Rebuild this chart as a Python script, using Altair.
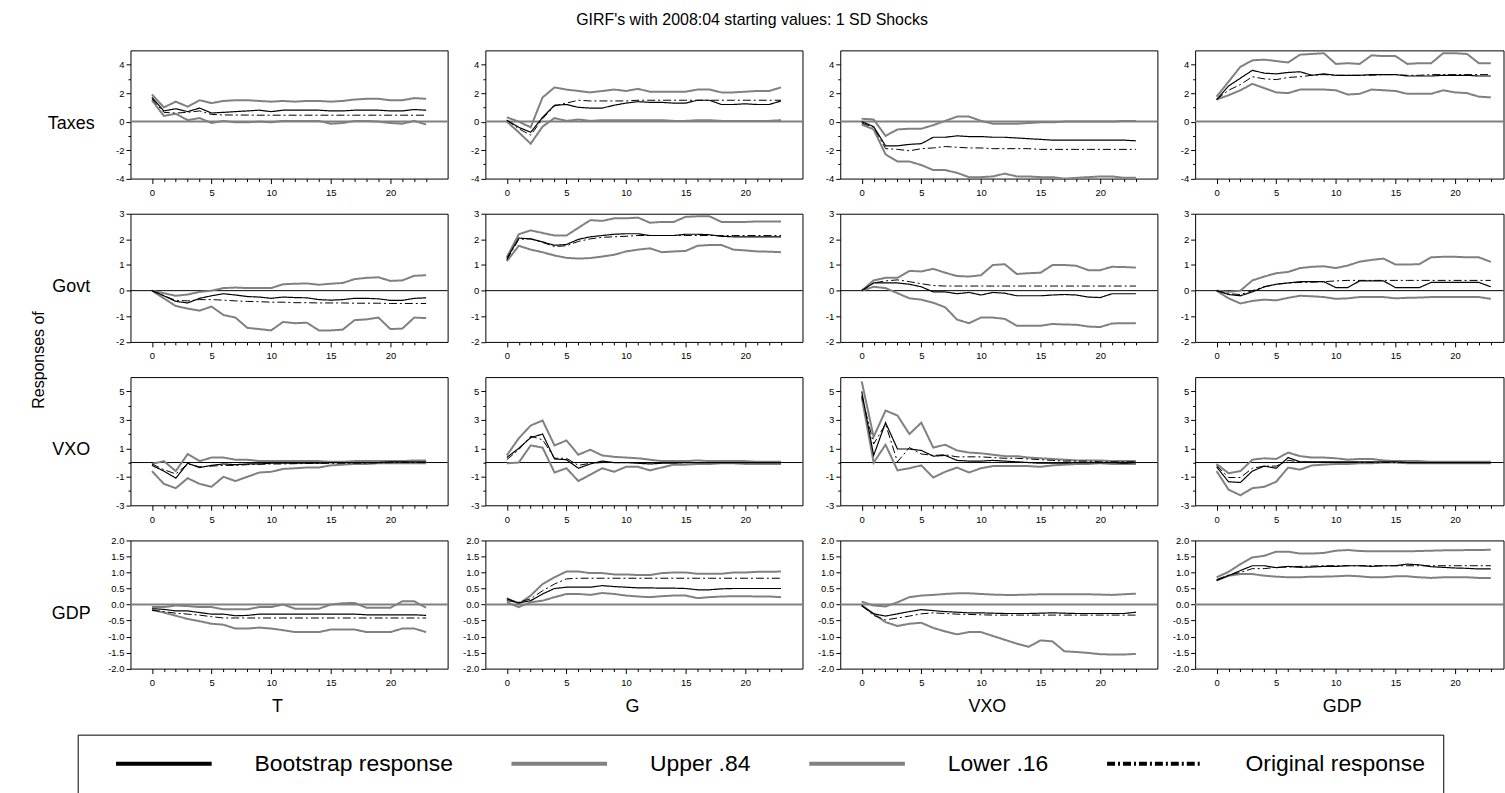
import altair as alt
import pandas as pd

FONT = "Liberation Sans"

SERIES = ["Bootstrap response", "Upper .84", "Lower .16", "Original response"]
SERIES_COLORS = ["#000000", "#808080", "#808080", "#000000"]
SERIES_DASH = [[1, 0], [1, 0], [1, 0], [8, 3, 2, 3]]

RESPONSES = ["Taxes", "Govt", "VXO", "GDP"]
SHOCKS = ["T", "G", "VXO", "GDP"]
HORIZON = list(range(24))

# ---- responses of Taxes ----
TAXES_T = {
    "boot": [1.7, 0.75, 0.9, 0.7, 0.95, 0.6, 0.65, 0.7, 0.75, 0.8, 0.7, 0.8, 0.8, 0.8, 0.8, 0.75, 0.75, 0.8, 0.8, 0.8, 0.75, 0.75, 0.85, 0.8],
    "upper": [1.9, 1.0, 1.4, 1.05, 1.5, 1.3, 1.45, 1.5, 1.5, 1.45, 1.4, 1.45, 1.4, 1.45, 1.45, 1.4, 1.45, 1.55, 1.6, 1.6, 1.5, 1.5, 1.65, 1.6],
    "lower": [1.5, 0.4, 0.55, 0.1, 0.25, -0.1, 0.05, -0.05, -0.05, 0.0, -0.05, 0.05, 0.05, 0.05, 0.05, -0.15, -0.1, 0.05, 0.05, 0.0, -0.1, -0.15, 0.05, -0.2],
    "orig": [1.6, 0.65, 0.6, 0.65, 0.75, 0.5, 0.47, 0.46, 0.46, 0.45, 0.45, 0.45, 0.45, 0.45, 0.45, 0.45, 0.45, 0.45, 0.45, 0.45, 0.45, 0.45, 0.45, 0.45],
}
TAXES_G = {
    "boot": [0.1, -0.4, -0.75, 0.3, 1.15, 1.2, 1.0, 0.95, 0.95, 1.15, 1.3, 1.4, 1.35, 1.35, 1.3, 1.3, 1.5, 1.5, 1.2, 1.2, 1.25, 1.2, 1.2, 1.45],
    "upper": [0.3, 0.0, -0.4, 1.7, 2.4, 2.25, 2.15, 2.05, 2.15, 2.25, 2.15, 2.3, 2.1, 2.1, 2.1, 2.1, 2.25, 2.25, 2.05, 2.05, 2.1, 2.15, 2.15, 2.4],
    "lower": [0.0, -0.75, -1.55, -0.35, 0.25, 0.05, 0.15, 0.05, 0.1, 0.1, 0.1, 0.1, 0.1, 0.1, 0.05, 0.05, 0.1, 0.1, 0.05, 0.05, 0.05, 0.05, 0.05, 0.1],
    "orig": [0.1, -0.5, -0.95, 0.2, 1.1, 1.3, 1.5, 1.45, 1.45, 1.45, 1.45, 1.5, 1.5, 1.5, 1.5, 1.5, 1.5, 1.5, 1.5, 1.5, 1.5, 1.5, 1.5, 1.5],
}
TAXES_VXO = {
    "boot": [0.0, -0.35, -1.7, -1.7, -1.6, -1.55, -1.1, -1.1, -1.0, -1.05, -1.05, -1.1, -1.1, -1.15, -1.2, -1.25, -1.3, -1.3, -1.3, -1.3, -1.3, -1.3, -1.3, -1.35],
    "upper": [0.2, 0.15, -1.0, -0.55, -0.5, -0.5, -0.25, 0.05, 0.35, 0.35, 0.05, -0.15, -0.15, -0.15, -0.1, -0.05, -0.05, 0.0, 0.0, 0.0, 0.0, 0.0, 0.05, 0.05],
    "lower": [-0.2, -0.55, -2.3, -2.8, -2.8, -3.05, -3.4, -3.4, -3.6, -3.9, -3.9, -3.85, -3.65, -3.85, -3.85, -3.9, -3.9, -4.0, -3.95, -3.9, -3.85, -3.85, -3.95, -3.95],
    "orig": [-0.1, -0.4, -1.9, -1.95, -2.05, -1.9, -1.85, -1.75, -1.8, -1.85, -1.85, -1.9, -1.9, -1.9, -1.9, -1.95, -1.95, -1.95, -1.95, -1.95, -1.95, -1.95, -1.95, -1.95],
}
TAXES_GDP = {
    "boot": [1.55, 2.5, 3.05, 3.6, 3.4, 3.35, 3.45, 3.5, 3.25, 3.35, 3.25, 3.25, 3.25, 3.3, 3.3, 3.3, 3.2, 3.2, 3.2, 3.25, 3.25, 3.25, 3.2, 3.2],
    "upper": [1.75, 2.8, 3.85, 4.3, 4.35, 4.25, 4.15, 4.7, 4.75, 4.8, 4.05, 4.1, 4.05, 4.65, 4.6, 4.6, 4.05, 4.1, 4.1, 4.8, 4.8, 4.75, 4.1, 4.1],
    "lower": [1.55, 1.85, 2.2, 2.65, 2.35, 2.05, 2.0, 2.25, 2.25, 2.25, 2.2, 1.9, 1.95, 2.25, 2.2, 2.15, 1.95, 1.95, 1.95, 2.2, 2.05, 2.0, 1.75, 1.7],
    "orig": [1.55, 2.2, 2.6, 3.15, 3.0, 2.95, 3.1, 3.15, 3.25, 3.3, 3.25, 3.25, 3.25, 3.25, 3.3, 3.3, 3.25, 3.25, 3.3, 3.3, 3.3, 3.3, 3.3, 3.3],
}

# ---- responses of Govt ----
GOVT_T = {
    "boot": [0.0, -0.2, -0.42, -0.48, -0.3, -0.2, -0.12, -0.17, -0.23, -0.25, -0.3, -0.25, -0.27, -0.28, -0.35, -0.37, -0.35, -0.3, -0.3, -0.32, -0.38, -0.38, -0.3, -0.28],
    "upper": [0.0, -0.1, -0.2, -0.15, -0.05, 0.0, 0.1, 0.12, 0.1, 0.1, 0.1, 0.25, 0.27, 0.28, 0.23, 0.27, 0.3, 0.45, 0.5, 0.52, 0.38, 0.4, 0.58, 0.6],
    "lower": [0.0, -0.3, -0.6, -0.7, -0.78, -0.62, -0.95, -1.05, -1.45, -1.5, -1.55, -1.22, -1.27, -1.25, -1.55, -1.55, -1.52, -1.15, -1.12, -1.05, -1.5, -1.48, -1.05, -1.07],
    "orig": [0.0, -0.2, -0.38, -0.4, -0.35, -0.35, -0.37, -0.4, -0.42, -0.43, -0.45, -0.45, -0.47, -0.47, -0.48, -0.48, -0.48, -0.49, -0.49, -0.49, -0.5, -0.5, -0.5, -0.5],
}
GOVT_G = {
    "boot": [1.25, 2.05, 2.02, 1.9, 1.77, 1.8, 2.0, 2.1, 2.15, 2.2, 2.22, 2.22, 2.15, 2.15, 2.15, 2.2, 2.2, 2.18, 2.12, 2.1, 2.1, 2.1, 2.1, 2.1],
    "upper": [1.3, 2.2, 2.35, 2.25, 2.15, 2.15, 2.45, 2.75, 2.72, 2.82, 2.82, 2.85, 2.65, 2.68, 2.68, 2.88, 2.9, 2.9, 2.68, 2.68, 2.68, 2.7, 2.7, 2.7],
    "lower": [1.15, 1.75, 1.6, 1.5, 1.37, 1.28, 1.25, 1.27, 1.33, 1.4, 1.53, 1.6, 1.65, 1.5, 1.53, 1.55, 1.75, 1.78, 1.78, 1.6, 1.57, 1.53, 1.52, 1.5],
    "orig": [1.2, 2.0, 2.02, 1.88, 1.72, 1.75, 1.92, 2.02, 2.08, 2.1, 2.12, 2.15, 2.15, 2.15, 2.15, 2.15, 2.15, 2.15, 2.15, 2.15, 2.15, 2.15, 2.15, 2.15],
}
GOVT_VXO = {
    "boot": [0.0, 0.3, 0.3, 0.3, 0.25, 0.15, -0.05, -0.05, -0.12, -0.07, -0.17, -0.07, -0.1, -0.2, -0.2, -0.2, -0.17, -0.15, -0.17, -0.25, -0.27, -0.12, -0.12, -0.12],
    "upper": [0.0, 0.4, 0.5, 0.5, 0.77, 0.75, 0.85, 0.7, 0.57, 0.55, 0.6, 1.0, 1.03, 0.65, 0.68, 0.7, 1.0, 1.0, 0.97, 0.8, 0.8, 0.93, 0.92, 0.9],
    "lower": [0.0, 0.15, 0.1, -0.1, -0.3, -0.35, -0.47, -0.65, -1.13, -1.27, -1.05, -1.05, -1.1, -1.37, -1.37, -1.37, -1.3, -1.32, -1.33, -1.4, -1.42, -1.28, -1.27, -1.27],
    "orig": [0.0, 0.3, 0.38, 0.42, 0.35, 0.27, 0.2, 0.18, 0.18, 0.18, 0.18, 0.18, 0.18, 0.18, 0.18, 0.18, 0.18, 0.18, 0.18, 0.18, 0.18, 0.18, 0.18, 0.18],
}
GOVT_GDP = {
    "boot": [0.0, -0.15, -0.2, -0.05, 0.15, 0.25, 0.3, 0.35, 0.35, 0.35, 0.12, 0.12, 0.38, 0.38, 0.38, 0.12, 0.12, 0.12, 0.32, 0.32, 0.32, 0.32, 0.32, 0.15],
    "upper": [0.0, -0.05, 0.0, 0.4, 0.55, 0.68, 0.73, 0.88, 0.93, 0.95, 0.88, 0.98, 1.13, 1.2, 1.25, 1.02, 1.02, 1.03, 1.3, 1.32, 1.32, 1.3, 1.3, 1.12],
    "lower": [0.0, -0.3, -0.5, -0.4, -0.35, -0.38, -0.28, -0.2, -0.22, -0.25, -0.32, -0.3, -0.25, -0.25, -0.25, -0.3, -0.28, -0.27, -0.25, -0.25, -0.25, -0.25, -0.25, -0.32],
    "orig": [0.0, -0.12, -0.15, 0.0, 0.15, 0.25, 0.3, 0.32, 0.33, 0.35, 0.38, 0.4, 0.4, 0.4, 0.4, 0.4, 0.4, 0.4, 0.4, 0.4, 0.4, 0.4, 0.4, 0.4],
}

# ---- responses of VXO ----
VXO_T = {
    "boot": [-0.2, -0.6, -1.1, -0.05, -0.35, -0.2, -0.1, -0.15, -0.1, -0.1, -0.05, -0.05, -0.05, -0.05, -0.05, 0.0, 0.0, 0.0, 0.0, 0.0, 0.05, 0.05, 0.05, 0.05],
    "upper": [-0.1, 0.1, -0.6, 0.6, 0.1, 0.35, 0.35, 0.2, 0.2, 0.1, 0.1, 0.1, 0.1, 0.1, 0.1, 0.05, 0.05, 0.1, 0.1, 0.1, 0.1, 0.1, 0.15, 0.15],
    "lower": [-0.6, -1.5, -1.8, -1.1, -1.5, -1.7, -1.0, -1.3, -1.0, -0.7, -0.65, -0.45, -0.4, -0.35, -0.35, -0.2, -0.15, -0.1, -0.1, -0.05, -0.05, -0.05, -0.05, -0.05],
    "orig": [-0.1, -0.5, -0.8, -0.1, -0.3, -0.25, -0.2, -0.2, -0.15, -0.12, -0.1, -0.1, -0.08, -0.07, -0.06, -0.05, -0.05, -0.04, -0.03, -0.02, -0.01, 0.0, 0.0, 0.0],
}
VXO_G = {
    "boot": [0.35, 1.0, 1.75, 2.0, 0.25, 0.2, -0.4, -0.1, 0.1, 0.0, 0.0, -0.05, -0.1, -0.05, -0.05, 0.0, 0.0, 0.0, 0.0, 0.0, 0.0, 0.0, 0.0, 0.0],
    "upper": [0.5, 1.7, 2.6, 2.95, 1.2, 1.55, 0.55, 0.9, 0.5, 0.4, 0.35, 0.3, 0.2, 0.1, 0.1, 0.1, 0.15, 0.1, 0.1, 0.1, 0.1, 0.05, 0.05, 0.05],
    "lower": [-0.05, 0.0, 1.2, 1.05, -0.7, -0.4, -1.3, -0.85, -0.4, -0.65, -0.3, -0.3, -0.55, -0.35, -0.15, -0.15, -0.1, -0.1, -0.05, -0.05, -0.1, -0.1, -0.1, -0.1],
    "orig": [0.2, 0.9, 1.85, 1.6, 0.3, 0.3, -0.2, -0.05, 0.0, 0.0, 0.0, 0.0, 0.0, 0.0, 0.0, 0.0, 0.0, 0.0, 0.0, 0.0, 0.0, 0.0, 0.0, 0.0],
}
VXO_VXO = {
    "boot": [5.0, 0.5, 2.8, 0.95, 0.95, 0.85, 0.45, 0.5, 0.15, 0.1, 0.1, 0.15, 0.1, 0.05, 0.0, -0.05, -0.05, -0.05, 0.0, 0.0, 0.0, 0.0, -0.05, 0.0],
    "upper": [5.7, 1.8, 3.65, 3.3, 2.0, 2.8, 1.05, 1.25, 0.85, 0.7, 0.65, 0.55, 0.45, 0.45, 0.35, 0.3, 0.25, 0.2, 0.15, 0.15, 0.15, 0.1, 0.1, 0.1],
    "lower": [4.6, 0.0, 1.25, -0.55, -0.4, -0.2, -1.05, -0.65, -0.35, -0.7, -0.4, -0.25, -0.25, -0.25, -0.25, -0.3, -0.2, -0.15, -0.1, -0.1, -0.05, -0.1, -0.1, -0.1],
    "orig": [4.7, 1.3, 2.7, 0.05, 1.05, 0.6, 0.5, 0.55, 0.4, 0.4, 0.4, 0.35, 0.3, 0.3, 0.25, 0.2, 0.15, 0.1, 0.1, 0.1, 0.05, 0.05, 0.05, 0.05],
}
VXO_GDP = {
    "boot": [-0.3, -1.35, -1.4, -0.6, -0.25, -0.4, 0.35, 0.05, 0.05, 0.05, 0.05, 0.05, 0.05, 0.05, 0.05, 0.05, 0.0, 0.0, 0.0, 0.0, 0.0, 0.0, 0.0, 0.0],
    "upper": [-0.1, -0.75, -0.6, 0.2, 0.3, 0.25, 0.7, 0.45, 0.35, 0.35, 0.3, 0.2, 0.25, 0.25, 0.15, 0.1, 0.1, 0.1, 0.05, 0.05, 0.05, 0.05, 0.05, 0.05],
    "lower": [-0.6, -1.9, -2.3, -1.8, -1.7, -1.35, -0.35, -0.5, -0.2, -0.15, -0.1, -0.1, -0.05, -0.05, 0.0, 0.0, -0.05, -0.05, -0.05, -0.05, -0.05, -0.05, -0.05, -0.05],
    "orig": [-0.2, -1.05, -1.05, -0.4, -0.25, -0.25, 0.15, 0.05, 0.0, 0.0, 0.0, 0.0, 0.0, 0.0, 0.0, 0.0, 0.0, 0.0, 0.0, 0.0, 0.0, 0.0, 0.0, 0.0],
}

# ---- responses of GDP ----
GDP_T = {
    "boot": [-0.13, -0.15, -0.2, -0.2, -0.25, -0.3, -0.3, -0.35, -0.34, -0.3, -0.3, -0.3, -0.3, -0.3, -0.3, -0.3, -0.3, -0.3, -0.32, -0.32, -0.32, -0.32, -0.32, -0.34],
    "upper": [-0.08, -0.08, -0.03, -0.05, -0.08, -0.08, -0.15, -0.15, -0.15, -0.08, -0.08, 0.0, -0.13, -0.13, -0.13, 0.0, 0.04, 0.05, -0.1, -0.1, -0.1, 0.1, 0.1, -0.1],
    "lower": [-0.17, -0.25, -0.35, -0.45, -0.52, -0.6, -0.63, -0.75, -0.75, -0.72, -0.75, -0.8, -0.86, -0.86, -0.86, -0.78, -0.78, -0.78, -0.86, -0.86, -0.86, -0.75, -0.75, -0.86],
    "orig": [-0.18, -0.22, -0.27, -0.3, -0.33, -0.38, -0.42, -0.42, -0.42, -0.42, -0.42, -0.42, -0.42, -0.42, -0.42, -0.42, -0.42, -0.42, -0.42, -0.42, -0.42, -0.42, -0.42, -0.42],
}
GDP_G = {
    "boot": [0.18, 0.05, 0.12, 0.33, 0.5, 0.54, 0.54, 0.54, 0.59, 0.56, 0.54, 0.52, 0.52, 0.51, 0.51, 0.5, 0.46, 0.46, 0.49, 0.5, 0.5, 0.5, 0.5, 0.5],
    "upper": [0.2, 0.02, 0.28, 0.64, 0.85, 1.03, 1.03, 0.98, 0.98, 0.94, 0.94, 0.92, 0.92, 0.98, 1.0, 1.0, 0.96, 0.96, 0.96, 1.0, 1.0, 1.02, 1.02, 1.03],
    "lower": [0.07, -0.08, 0.07, 0.12, 0.23, 0.33, 0.33, 0.3, 0.36, 0.33, 0.28, 0.25, 0.23, 0.26, 0.28, 0.28, 0.2, 0.23, 0.25, 0.26, 0.26, 0.25, 0.25, 0.23],
    "orig": [0.12, 0.07, 0.18, 0.43, 0.64, 0.8, 0.82, 0.82, 0.82, 0.82, 0.82, 0.82, 0.82, 0.82, 0.82, 0.82, 0.82, 0.82, 0.82, 0.82, 0.82, 0.82, 0.82, 0.82],
}
GDP_VXO = {
    "boot": [-0.03, -0.29, -0.36, -0.29, -0.22, -0.16, -0.19, -0.22, -0.24, -0.26, -0.26, -0.27, -0.28, -0.28, -0.28, -0.27, -0.26, -0.27, -0.28, -0.28, -0.28, -0.28, -0.28, -0.24],
    "upper": [0.09, -0.03, -0.06, 0.07, 0.23, 0.28, 0.3, 0.33, 0.35, 0.35, 0.33, 0.31, 0.3, 0.3, 0.31, 0.32, 0.32, 0.32, 0.32, 0.32, 0.31, 0.3, 0.32, 0.34],
    "lower": [-0.03, -0.29, -0.55, -0.67, -0.6, -0.57, -0.73, -0.84, -0.93, -0.86, -0.86, -0.98, -1.1, -1.22, -1.32, -1.12, -1.15, -1.46, -1.48, -1.51, -1.55, -1.56, -1.56, -1.54],
    "orig": [-0.03, -0.34, -0.48, -0.42, -0.36, -0.29, -0.26, -0.28, -0.3, -0.31, -0.32, -0.33, -0.33, -0.33, -0.33, -0.33, -0.33, -0.33, -0.33, -0.33, -0.33, -0.33, -0.33, -0.33],
}
GDP_GDP = {
    "boot": [0.75, 0.9, 1.06, 1.21, 1.21, 1.15, 1.19, 1.16, 1.17, 1.19, 1.19, 1.21, 1.21, 1.19, 1.21, 1.21, 1.26, 1.24, 1.18, 1.16, 1.14, 1.13, 1.11, 1.11],
    "upper": [0.85, 1.02, 1.26, 1.47, 1.52, 1.65, 1.65, 1.59, 1.59, 1.61, 1.68, 1.7, 1.67, 1.66, 1.66, 1.66, 1.66, 1.67, 1.68, 1.69, 1.69, 1.7, 1.7, 1.71],
    "lower": [0.75, 0.9, 0.95, 0.95, 0.9, 0.87, 0.85, 0.85, 0.87, 0.87, 0.88, 0.9, 0.88, 0.85, 0.85, 0.88, 0.88, 0.85, 0.83, 0.85, 0.85, 0.85, 0.83, 0.83],
    "orig": [0.78, 0.92, 1.0, 1.12, 1.12, 1.16, 1.17, 1.19, 1.2, 1.21, 1.21, 1.21, 1.21, 1.21, 1.21, 1.21, 1.21, 1.21, 1.21, 1.21, 1.21, 1.21, 1.21, 1.21],
}

PANELS = [
    [TAXES_T, TAXES_G, TAXES_VXO, TAXES_GDP],
    [GOVT_T, GOVT_G, GOVT_VXO, GOVT_GDP],
    [VXO_T, VXO_G, VXO_VXO, VXO_GDP],
    [GDP_T, GDP_G, GDP_VXO, GDP_GDP],
]

# y-axis layout of each row: domain, tick positions, which ticks carry a label
ROW_Y = [
    dict(domain=[-4, 5], ticks=list(range(-4, 5)),
         major="datum.value % 2 == 0", fmt="toString(datum.value)",
         zero_color="#808080", zero_width=2),
    dict(domain=[-2, 3], ticks=list(range(-2, 4)),
         major="true", fmt="toString(datum.value)",
         zero_color="#000000", zero_width=1),
    dict(domain=[-3, 6], ticks=list(range(-3, 6)),
         major="abs(datum.value) % 2 == 1", fmt="toString(datum.value)",
         zero_color="#000000", zero_width=1),
    dict(domain=[-2, 2], ticks=[-2, -1.5, -1, -0.5, 0, 0.5, 1, 1.5, 2],
         major="true", fmt="(datum.value < 0 ? '-' : '') + format(abs(datum.value), '.1f')",
         zero_color="#808080", zero_width=2),
]

PANEL_W = 318.4
PANEL_H = 128.7
UNIT = PANEL_W / 26.6
X_DOMAIN = [-1.8, 24.8]
LAST_W = 309.6
X_DOMAIN_LAST = [-1.8, -1.8 + LAST_W / UNIT]

LEGEND = alt.Legend(title="\u00a0")


def panel(ri, ci):
    values = PANELS[ri][ci]
    ycfg = ROW_Y[ri]
    records = []
    for key, name in zip(["boot", "upper", "lower", "orig"], SERIES):
        for t, v in zip(HORIZON, values[key]):
            records.append({"t": t, "v": v, "series": name})
    df = pd.DataFrame(records)

    last = ci == 3
    x_axis = alt.Axis(
        values=HORIZON,
        labelExpr="datum.value % 5 == 0 ? toString(datum.value) : ''",
        tickSize={"condition": {"test": "datum.value % 5 == 0", "value": 5}, "value": 3},
        labelPadding=4,
        title=SHOCKS[ci] if ri == 3 else "",
        titleX=PANEL_W / 2 - 12,
        titleY=38,
        titleBaseline="middle",
        titleFontSize=18,
    )
    y_axis_kw = dict(
        values=ycfg["ticks"],
        labelExpr=f"{ycfg['major']} ? {ycfg['fmt']} : ''",
        tickSize={"condition": {"test": ycfg["major"], "value": 4.5}, "value": 2.5},
        labelPadding=2,
        labelOverlap=False,
    )
    if ci == 0:
        y_axis = alt.Axis(title=RESPONSES[ri], titleAngle=0, titleAlign="center",
                          titleBaseline="middle", titleX=-60, titleY=73,
                          titleFontSize=18, **y_axis_kw)
    else:
        y_axis = alt.Axis(title="", **y_axis_kw)

    x = alt.X("t:Q", scale=alt.Scale(domain=X_DOMAIN_LAST if last else X_DOMAIN,
                                     nice=False, zero=False), axis=x_axis)
    y = alt.Y("v:Q", scale=alt.Scale(domain=ycfg["domain"], nice=False, zero=False),
              axis=y_axis)
    color = alt.Color("series:N", scale=alt.Scale(domain=SERIES, range=SERIES_COLORS),
                      legend=LEGEND)
    dash = alt.StrokeDash("series:N", scale=alt.Scale(domain=SERIES, range=SERIES_DASH),
                          legend=LEGEND)

    zero = alt.Chart(pd.DataFrame({"v": [0.0]})).mark_rule(
        color=ycfg["zero_color"], strokeWidth=ycfg["zero_width"]
    ).encode(y=y)

    base = alt.Chart(df).encode(x=x, y=y, color=color, strokeDash=dash)
    bands = base.transform_filter(
        alt.FieldOneOfPredicate(field="series", oneOf=["Upper .84", "Lower .16"])
    ).mark_line(strokeWidth=2, clip=True)
    boot = base.transform_filter(
        alt.FieldEqualPredicate(field="series", equal="Bootstrap response")
    ).mark_line(strokeWidth=1.2, clip=True)
    orig = base.transform_filter(
        alt.FieldEqualPredicate(field="series", equal="Original response")
    ).mark_line(strokeWidth=1, clip=True)

    return alt.layer(zero, bands, boot, orig).properties(
        width=LAST_W if last else PANEL_W, height=PANEL_H
    )


grid = alt.concat(
    *[panel(ri, ci) for ri in range(4) for ci in range(4)],
    columns=4,
    spacing={"row": 35, "column": 37.3},
    bounds="flush",
    align="each",
).properties(
    title=alt.TitleParams("Responses of", orient="left", anchor="middle", frame="bounds",
                          offset=0, dx=23, fontSize=16, font=FONT, fontWeight="normal",
                          color="black")
)

chart = alt.vconcat(grid).properties(
    title=alt.TitleParams("GIRF's with 2008:04 starting values: 1 SD Shocks",
                          anchor="middle", frame="bounds", dx=-16, offset=22,
                          fontSize=16, font=FONT, fontWeight="normal", color="black"),
    padding={"left": 30, "top": 10, "right": 0, "bottom": 0},
).configure_view(
    stroke="black", strokeWidth=1
).configure_axis(
    labelFont=FONT, labelFontSize=9.5, labelColor="black",
    tickColor="black", tickWidth=1, domain=False, grid=False,
    titleFont=FONT, titleFontSize=16, titleFontWeight="normal", titleColor="black",
).configure_legend(
    orient="none", legendX=-53, legendY=687, direction="horizontal", columns=4,
    symbolType="stroke", symbolSize=9216, symbolStrokeWidth=4, clipHeight=23,
    labelFont=FONT, labelFontSize=23, labelColor="black", labelLimit=400,
    labelOffset=41, columnPadding=56, padding=17.5,
    strokeColor="black", fillColor="white", cornerRadius=0,
    titleOrient="left", titlePadding=19, titleFontSize=2,
)

chart.save("out.html", embed_options={"renderer": "svg", "actions": False})
